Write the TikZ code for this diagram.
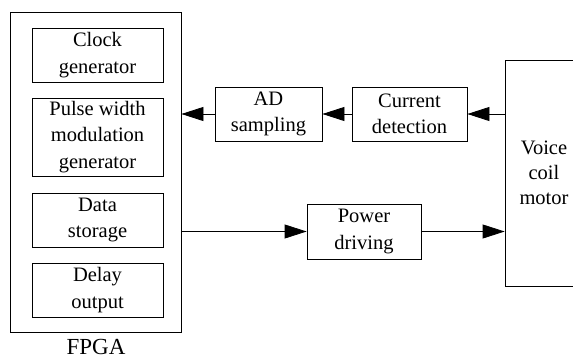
\documentclass[tikz,border=0pt]{standalone}
\usepackage{fontspec}
\setmainfont{Liberation Serif}
\usetikzlibrary{arrows.meta}
\tikzset{
  blk/.style={draw=black, line width=0.8pt, inner sep=0pt, align=center,
    font=\fontsize{20.5}{26.5}\selectfont},
  arr/.style={draw=black, line width=0.8pt, -{Triangle[length=22pt,width=14pt]}},
  lbl/.style={inner sep=0pt, font=\fontsize{23}{27}\selectfont}
}
\begin{document}
\begin{tikzpicture}[x=1pt,y=-1pt]
\useasboundingbox (0,0) rectangle (573,359);
\clip (0,0) rectangle (573,359);
\node[blk, minimum width=171pt, minimum height=320pt] (fpga) at (95.5,172) {};
\node[blk, minimum width=131pt, minimum height=54pt] (clock) at (97.5,55) {Clock\\generator};
\node[blk, minimum width=131pt, minimum height=78pt] (pwm) at (97.5,137) {Pulse width\\modulation\\generator};
\node[blk, minimum width=131pt, minimum height=54pt] (data) at (97.5,220) {Data\\storage};
\node[blk, minimum width=131pt, minimum height=54pt] (delay) at (97.5,290) {Delay\\output};
\node[lbl] (fpgalbl) at (96,347) {FPGA};
\node[blk, minimum width=107pt, minimum height=54pt] (ad) at (268.5,114) {AD\\sampling};
\node[blk, minimum width=115pt, minimum height=54pt] (current) at (409.5,114) {Current\\detection};
\node[blk, minimum width=114pt, minimum height=55pt] (power) at (364,231.5) {Power\\driving};
\node[blk, minimum width=78pt, minimum height=226pt, font=\fontsize{20.5}{25}\selectfont] (vcm) at (544,173) {Voice\\coil\\motor};
\draw[arr] (current.east -| vcm.west) -- (current.east);
\draw[arr] (current.west) -- (ad.east);
\draw[arr] (ad.west) -- (ad.west -| fpga.east);
\draw[arr] (power.west -| fpga.east) -- (power.west);
\draw[arr] (power.east) -- (power.east -| vcm.west);
\end{tikzpicture}
\end{document}
